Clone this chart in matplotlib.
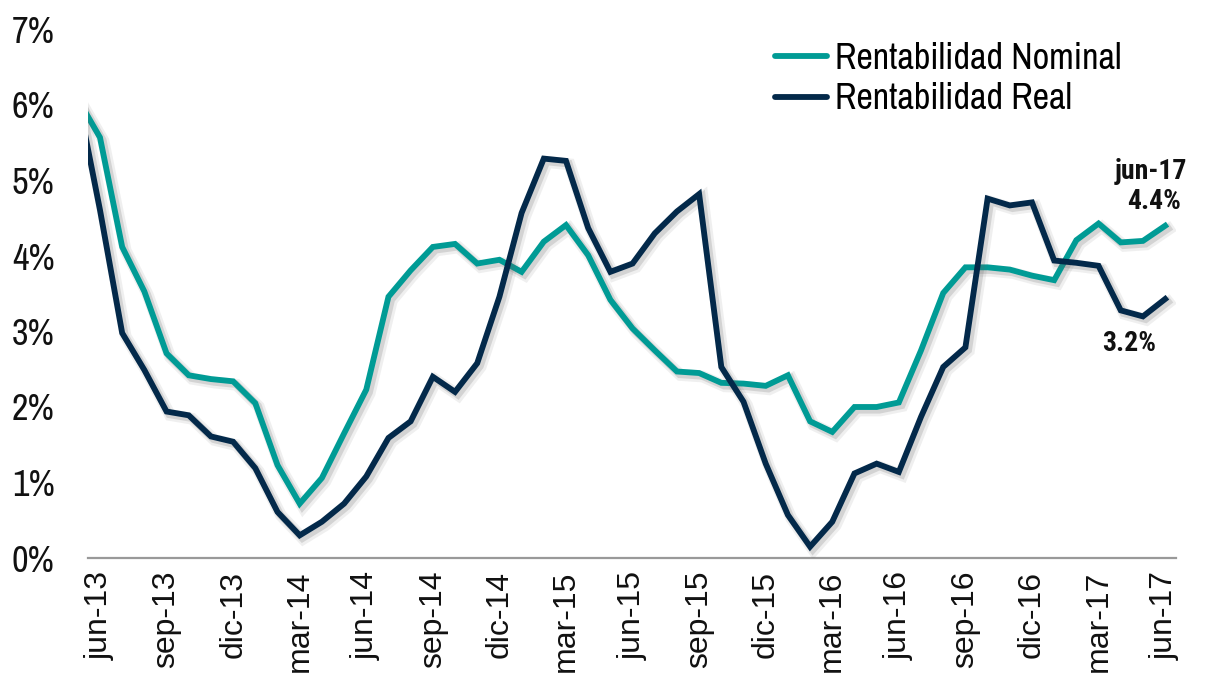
import matplotlib
matplotlib.use("Agg")
import matplotlib.pyplot as plt
import matplotlib.patheffects as pe
from matplotlib import font_manager
from matplotlib.lines import Line2D

# Monthly returns (%), may-13 .. jun-17
nominal = [6.08, 5.57, 4.12, 3.53, 2.71, 2.42, 2.37, 2.34, 2.05, 1.23, 0.72,
           1.06, 1.65, 2.23, 3.46, 3.81, 4.12, 4.16, 3.90, 3.95, 3.79, 4.19,
           4.41, 4.01, 3.42, 3.04, 2.75, 2.47, 2.45, 2.32, 2.31, 2.28, 2.42,
           1.81, 1.67, 2.00, 2.00, 2.06, 2.75, 3.51, 3.85, 3.85, 3.82, 3.74,
           3.68, 4.21, 4.43, 4.18, 4.20, 4.40]
real = [6.10, 4.61, 2.98, 2.49, 1.94, 1.89, 1.61, 1.54, 1.19, 0.61, 0.30,
        0.48, 0.72, 1.08, 1.59, 1.81, 2.40, 2.20, 2.58, 3.46, 4.57, 5.29,
        5.26, 4.37, 3.79, 3.90, 4.30, 4.59, 4.82, 2.53, 2.07, 1.25, 0.57,
        0.15, 0.48, 1.12, 1.25, 1.14, 1.87, 2.53, 2.79, 4.76, 4.67, 4.71,
        3.94, 3.91, 3.87, 3.28, 3.20, 3.43]

month_names = ["ene", "feb", "mar", "abr", "may", "jun",
               "jul", "ago", "sep", "oct", "nov", "dic"]
categories = []
for k in range(len(nominal)):
    m = 4 + k  # starts at may-13
    categories.append(f"{month_names[m % 12]}-{13 + m // 12}")

series_names = ["Rentabilidad Nominal", "Rentabilidad Real"]
y_ticks = [0, 1, 2, 3, 4, 5, 6, 7]

TEAL = "#009B95"
NAVY = "#03294A"

NARROW_CANDIDATES = ["Liberation Sans Narrow", "Arial Narrow", "Archivo Narrow",
                     "Roboto Condensed", "PT Sans Narrow",
                     "IBM Plex Sans Condensed"]


def pick_family(names, need_bold=False):
    weights = {}
    for f in font_manager.fontManager.ttflist:
        w = f.weight if isinstance(f.weight, int) else 400
        weights.setdefault(f.name, set()).add(w)
    for n in names:
        if n in weights and (not need_bold or max(weights[n]) >= 700):
            return n
    return None


NARROW = pick_family(NARROW_CANDIDATES) or "Liberation Sans"
NARROW_BOLD = pick_family(NARROW_CANDIDATES, need_bold=True)
BASE = 26 if NARROW != "Liberation Sans" else 23
plt.rcParams["font.family"] = [NARROW, "DejaVu Sans"]

fig = plt.figure(figsize=(12.08, 6.76), dpi=100)
ax = fig.add_axes([88 / 1208, 1 - 558 / 676, (1176 - 88) / 1208, (558 - 29.5) / 676])

# x positions: jun-13 = 0
x = [k - 1 for k in range(len(nominal))]


def shadow():
    return [pe.SimpleLineShadow(offset=(2.5, -2.5), shadow_color="0.4",
                                alpha=0.10, linewidth=8.5),
            pe.SimpleLineShadow(offset=(2.0, -2.0), shadow_color="0.4",
                                alpha=0.20, linewidth=5.5),
            pe.Normal()]


ax.plot(x, nominal, color=TEAL, lw=4.2, solid_joinstyle="miter",
        path_effects=shadow(), zorder=3)
ax.plot(x, real, color=NAVY, lw=4.2, solid_joinstyle="miter",
        path_effects=shadow(), zorder=4)

ax.set_xlim(-0.54, 48.49)
ax.set_ylim(0, 7)

tick_idx = list(range(1, len(categories), 3))
ax.set_xticks([x[i] for i in tick_idx])
ax.set_xticklabels([categories[i] for i in tick_idx], rotation=90,
                   fontsize=23, color="#111111",
                   family=["Liberation Sans", "DejaVu Sans"])
ax.set_yticks(y_ticks)
ax.set_yticklabels([f"{v}%" for v in y_ticks], fontsize=BASE, color="#111111")
ax.tick_params(axis="both", length=0)
ax.tick_params(axis="y", pad=24)
ax.tick_params(axis="x", pad=9)

for s in ["top", "right", "left"]:
    ax.spines[s].set_visible(False)
ax.spines["bottom"].set_color("#999999")
ax.spines["bottom"].set_linewidth(1.6)

handles = [Line2D([], [], color=TEAL, lw=4.2, solid_capstyle="round"),
           Line2D([], [], color=NAVY, lw=4.2, solid_capstyle="round")]
fig.legend(handles, series_names, loc="upper left",
           bbox_to_anchor=(775 / 1208, 1 - 42 / 676), frameon=False,
           fontsize=BASE, handlelength=1.45, handletextpad=0.2,
           labelspacing=0.2, borderpad=0, borderaxespad=0)

# End-of-series labels
if NARROW_BOLD:
    lab_font = dict(family=[NARROW_BOLD, "DejaVu Sans"], fontsize=20)
else:
    lab_font = dict(family=["Liberation Sans", "DejaVu Sans"], fontsize=17)
lab = dict(textcoords="offset pixels", ha="center", va="center",
           fontweight="bold", color="#111111", **lab_font)
ax.annotate("jun-17", xy=(x[-1], nominal[-1]), xytext=(-14, 54), **lab)
ax.annotate(f"{nominal[-1]:.1f}%", xy=(x[-1], nominal[-1]), xytext=(-11, 24), **lab)
ax.annotate(f"{real[-2]:.1f}%", xy=(x[-2], real[-2]), xytext=(-14, -27), **lab)

fig.savefig("out.png", dpi=100)
